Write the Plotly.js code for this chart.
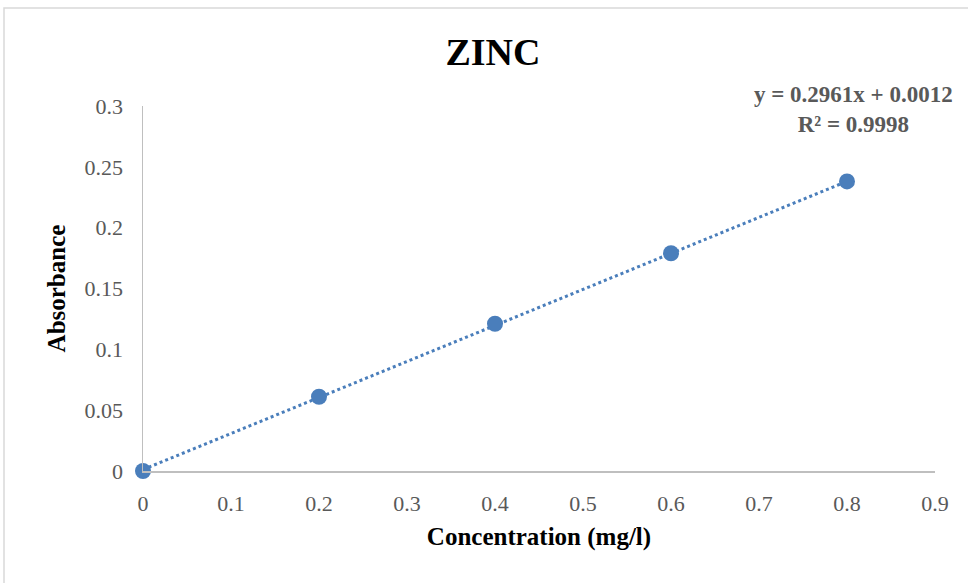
<!DOCTYPE html>
<html><head><meta charset="utf-8">
<script src="https://cdn.plot.ly/plotly-3.0.1.min.js"></script>
<style>html,body{margin:0;padding:0;background:#fff;}#chart{width:968px;height:583px;}</style>
</head><body><div id="chart"></div>
<script>
const concentration = [0, 0.2, 0.4, 0.6, 0.8];
const absorbance = [0, 0.061, 0.121, 0.179, 0.238];
const slope = 0.2961;
const intercept = 0.0012;
const xTicks = [0, 0.1, 0.2, 0.3, 0.4, 0.5, 0.6, 0.7, 0.8, 0.9];
const yTicks = [0, 0.05, 0.1, 0.15, 0.2, 0.25, 0.3];

const fitX = [0, 0.8];
const fitY = fitX.map(x => slope * x + intercept);

const W = 968, H = 583, L = 143, R = 33, T = 106, B = 112;
const pw = W - L - R, ph = H - T - B;
const px = v => (v - L) / pw;
const py = v => (H - B - v) / ph;

const font = "'Liberation Serif', 'Times New Roman', serif";

const data = [
  {x: fitX, y: fitY, mode: 'lines', line: {color: '#4a7ebb', width: 3, dash: 'dot'}, hoverinfo: 'skip', showlegend: false, cliponaxis: false},
  {x: concentration, y: absorbance, mode: 'markers', marker: {color: '#4a7ebb', size: 16}, showlegend: false, cliponaxis: false}
];

const layout = {
  width: W, height: H,
  margin: {l: L, r: R, t: T, b: B},
  paper_bgcolor: '#fff', plot_bgcolor: '#fff',
  font: {family: font, color: '#595959', size: 22},
  title: {text: '<b>ZINC</b>', font: {family: font, size: 38, color: '#000'}, x: 493 / W, xanchor: 'center', y: 1 - 52/H, yanchor: 'middle'},
  xaxis: {
    range: [0, 0.9], tickvals: xTicks, ticktext: xTicks.map(String),
    showgrid: false, zeroline: false, showline: true, linecolor: '#bfbfbf', linewidth: 1.5,
    ticks: '', ticklabelstandoff: 12,
    tickfont: {family: font, size: 22, color: '#595959'},
    title: {text: '<b>Concentration (mg/l)</b>', font: {family: font, size: 25, color: '#000'}, standoff: 12}
  },
  yaxis: {
    range: [0, 0.3], tickvals: yTicks, ticktext: yTicks.map(String),
    showgrid: false, zeroline: false, showline: true, linecolor: '#bfbfbf', linewidth: 1.5,
    ticks: '', ticklabelstandoff: 14,
    tickfont: {family: font, size: 22, color: '#595959'},
    title: {text: '<b>Absorbance</b>', font: {family: font, size: 25, color: '#000'}, standoff: 12}
  },
  annotations: [{
    xref: 'paper', yref: 'paper', x: px(853), y: py(110), xanchor: 'center', yanchor: 'middle',
    text: '<b>y = 0.2961x + 0.0012<br>R² = 0.9998</b>', showarrow: false, align: 'center',
    font: {family: font, size: 23, color: '#595959'}
  }],
  shapes: [{
    type: 'rect', xref: 'paper', yref: 'paper', x0: px(4), x1: px(1000), y0: py(8), y1: py(600),
    line: {color: '#d9d9d9', width: 1.5}, fillcolor: 'rgba(0,0,0,0)', layer: 'below'
  }]
};

Plotly.newPlot('chart', data, layout, {displayModeBar: false, staticPlot: true});
</script></body></html>
